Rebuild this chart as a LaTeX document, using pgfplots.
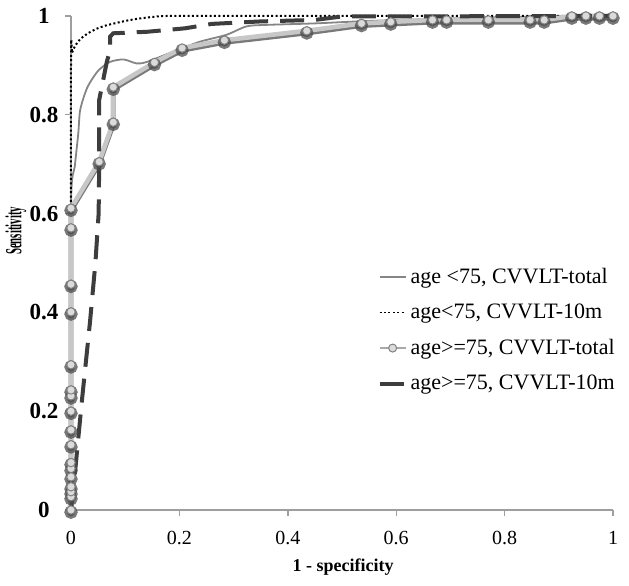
\documentclass[border=0pt]{standalone}
\usepackage{pgfplots}
\pgfplotsset{compat=1.18}
\usepackage{fontspec}
\setmainfont{Liberation Serif}
\definecolor{sone}{gray}{0.52}
\definecolor{sthree}{gray}{0.78}
\definecolor{sthreedark}{gray}{0.3}
\definecolor{mfill}{gray}{0.86}
\definecolor{medge}{gray}{0.5}
\definecolor{sfour}{gray}{0.24}
\definecolor{axcol}{gray}{0.62}
\begin{document}
\begin{tikzpicture}
\begin{axis}[
  scale only axis, width=271pt, height=247pt,
  xmin=0, xmax=1, ymin=0, ymax=1,
  axis x line*=bottom, axis y line*=left,
  axis line style={axcol, line width=0.7pt},
  tick style={axcol, line width=0.7pt},
  tick align=outside, major tick length=3pt,
  xtick={0,0.2,0.4,0.6,0.8,1}, ytick={0,0.2,0.4,0.6,0.8,1},
  /pgf/number format/assume math mode=true,
  clip=false,
  xticklabel style={font=\fontsize{10}{12}\selectfont, anchor=center, yshift=-11pt},
  yticklabel style={font=\fontsize{11.5}{13}\selectfont\bfseries, anchor=center, xshift=-10.5pt},
  xlabel={\bfseries 1 - specificity},
  xlabel style={font=\fontsize{9}{11}\selectfont, at={(axis description cs:0.502,-0.1154)}, anchor=center},
  ylabel={\bfseries\scalebox{0.47}[1]{Sensitivity}},
  ylabel style={font=\fontsize{11.5}{13}\selectfont, at={(axis description cs:-0.1015,0.565)}, anchor=center},
  legend style={draw=none, fill=none, at={(axis cs:0.565,0.491)}, anchor=north west,
    font=\fontsize{11}{13}\selectfont, row sep=8.8pt, inner sep=0pt,
    nodes={inner xsep=1.5pt, inner ysep=0pt}},
  legend cell align=left,
]
% S1: age <75, CVVLT-total
\addplot[sone, line width=0.9pt, smooth, tension=0.45,
  legend image code/.code={\draw[sone, line width=0.9pt] (0pt,0pt) -- (13pt,0pt);}]
  coordinates {(0,0) (0,0.61) (0.007,0.695) (0.0135,0.763) (0.017,0.81) (0.03,0.855)
   (0.05,0.889) (0.072,0.907) (0.097,0.912) (0.121,0.904) (0.14,0.907) (0.189,0.928)
   (0.238,0.948) (0.287,0.962) (0.324,0.979) (0.361,0.982) (0.45,0.985) (0.55,0.99)
   (0.7,0.995) (0.9,1) (1,1)};
\addlegendentry{age <75, CVVLT-total}
% S2: age<75, CVVLT-10m
\addplot[black, line width=1pt, dash pattern=on 1pt off 1.2pt, smooth, tension=0.4,
  legend image code/.code={\draw[black, line width=0.9pt, dash pattern=on 1pt off 1.2pt] (0pt,0pt) -- (13pt,0pt);}]
  coordinates {(0,0) (0,0.9) (0.002,0.925) (0.008,0.94) (0.017,0.953) (0.03,0.964)
   (0.047,0.974) (0.065,0.981) (0.084,0.986) (0.105,0.991) (0.127,0.995) (0.15,0.998)
   (0.177,1) (0.3,1) (1,1)};
\addlegendentry{age<75, CVVLT-10m}
% S3 shadow
\addplot[sthreedark, opacity=0.75, line width=2.4pt, yshift=-1.1pt, forget plot,
  mark=*, mark size=2.1pt, mark options={fill=sthreedark, draw=sthreedark}]
  table {
x y
0 0
0 0.027
0 0.037
0 0.047
0 0.067
0 0.084
0 0.096
0 0.132
0 0.162
0 0.2
0 0.231
0 0.243
0 0.294
0 0.401
0 0.457
0 0.571
0 0.611
0.052 0.705
0.078 0.785
0.078 0.856
0.154 0.906
0.205 0.935
0.283 0.951
0.435 0.970
0.536 0.985
0.590 0.988
0.667 0.992
0.693 0.992
0.770 0.992
0.847 0.992
0.873 0.992
0.924 1
0.950 1
0.975 1
1 1
};
% S3 main
\addplot[sthree, line width=2.3pt,
  mark=*, mark size=2.1pt, mark options={fill=mfill, draw=medge, line width=0.5pt},
  legend image code/.code={\draw[sthree!85!black, line width=0.7pt] (0pt,0pt) -- (13pt,0pt);
     \draw[fill=mfill, draw=medge, line width=0.5pt] (6.5pt,0pt) circle (2pt);}]
  table {
x y
0 0
0 0.027
0 0.037
0 0.047
0 0.067
0 0.084
0 0.096
0 0.132
0 0.162
0 0.2
0 0.231
0 0.243
0 0.294
0 0.401
0 0.457
0 0.571
0 0.611
0.052 0.705
0.078 0.785
0.078 0.856
0.154 0.906
0.205 0.935
0.283 0.951
0.435 0.970
0.536 0.985
0.590 0.988
0.667 0.992
0.693 0.992
0.770 0.992
0.847 0.992
0.873 0.992
0.924 1
0.950 1
0.975 1
1 1
};
\addlegendentry{age>=75, CVVLT-total}
% S4: age>=75, CVVLT-10m
\addplot[sfour, line width=2pt, dash pattern=on 12pt off 6pt,
  legend image code/.code={\draw[sfour, line width=2pt] (0pt,0pt) -- (13pt,0pt);}]
  coordinates {(0,0) (0.006,0.06) (0.02,0.22) (0.035,0.38) (0.045,0.5) (0.051,0.6)
   (0.052,0.7) (0.052,0.83) (0.066,0.907) (0.072,0.93) (0.072,0.958) (0.078,0.965)
   (0.14,0.968) (0.21,0.975) (0.26,0.984) (0.35,0.989) (0.45,0.992) (0.5,0.999) (1,1)};
\addlegendentry{age>=75, CVVLT-10m}
\end{axis}
\pgfresetboundingbox
\path ([shift={(-35.5pt,-38pt)}]current axis.south west) rectangle ([shift={(8pt,8pt)}]current axis.north east);
\end{tikzpicture}
\end{document}
